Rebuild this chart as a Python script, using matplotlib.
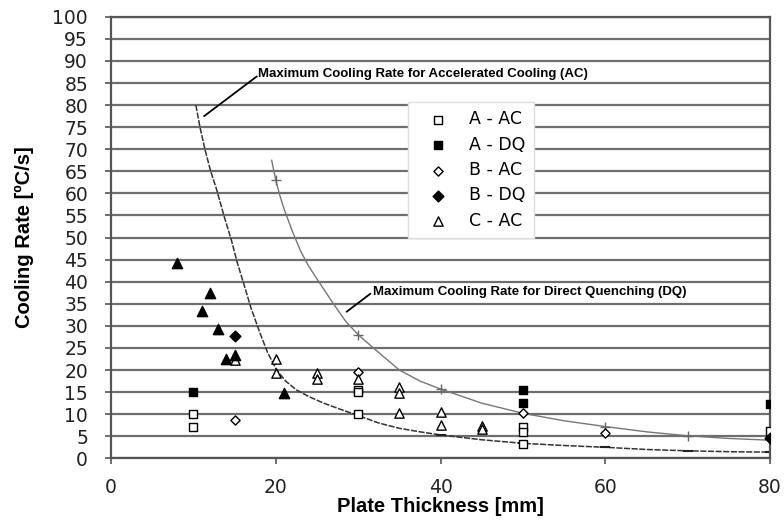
import matplotlib
matplotlib.use('Agg')
import matplotlib.pyplot as plt

plt.rcParams['font.family'] = ['Liberation Sans', 'DejaVu Sans']

# measured points
a_ac_x = [10, 10, 30, 30, 30, 50, 50, 50, 80]
a_ac_y = [10, 7, 15.5, 15, 10, 7, 6, 3.2, 6.2]
a_dq_x = [10, 50, 50, 80]
a_dq_y = [15, 15.5, 12.5, 12.3]
b_ac_x = [15, 30, 50, 60]
b_ac_y = [8.7, 19.5, 10.2, 5.7]
b_dq_x = [15, 80]
b_dq_y = [27.8, 4.5]
c_ac_x = [15, 20, 20, 25, 25, 30, 35, 35, 35, 40, 40, 45, 45]
c_ac_y = [22.2, 22.6, 19.4, 19.4, 17.9, 17.9, 16.1, 14.8, 10.3, 10.5, 7.5, 7.4, 6.6]
c_dq_x = [8, 11, 12, 13, 14, 15, 21]
c_dq_y = [44.2, 33.4, 37.5, 29.2, 22.4, 23.3, 14.7]

# maximum cooling rate curves
ac_x = [10.3, 10.8, 11.4, 12.1, 12.8, 13.7, 14.6, 15.3, 16.1, 17, 18.1, 19, 20.1, 21.2, 22.5,
        24, 25.8, 28, 30, 32.5, 35, 37.5, 40, 45, 50, 55, 60, 65, 70, 75, 80]
ac_y = [80, 75, 70, 65, 61, 55, 49.5, 44.5, 39.6, 34, 28.3, 24, 20, 17.5, 15.5,
        14, 12.5, 11, 9.7, 8, 6.8, 6, 5.3, 4.2, 3.4, 2.9, 2.5, 2.0, 1.7, 1.5, 1.4]
dq_x = [19.5, 20, 20.5, 21, 22, 23, 24, 25.4, 27, 28.5, 30, 32.6, 35, 37.5, 40, 45, 50,
        55, 60, 65, 70, 75, 80]
dq_y = [67.5, 63, 59.5, 56.5, 51.5, 47, 43.5, 39.5, 35, 31, 28, 23.8, 20, 17.5, 15.7, 12.5, 10.2,
        8.5, 7.2, 6, 5.1, 4.5, 4.1]
dq_marks = [20, 30, 40, 60, 70]
ac_marks = [40, 50, 60, 70, 80]

fig = plt.figure(figsize=(7.84, 5.25), dpi=100)
ax = fig.add_axes([0.1416, 0.127, 0.8406, 0.841])

ax.plot(ac_x, ac_y, color='#333333', lw=1.1, ls=(0, (4, 1)), zorder=2)
ax.plot(dq_x, dq_y, color='#777777', lw=1.0, zorder=2)
ax.plot([x for x in dq_x if x in dq_marks],
        [y for x, y in zip(dq_x, dq_y) if x in dq_marks],
        ls='none', marker='+', ms=7, color='#666666', zorder=2)
ax.plot([x for x in ac_x if x in ac_marks],
        [y for x, y in zip(ac_x, ac_y) if x in ac_marks],
        ls='none', marker='_', ms=7, mew=1.5, color='#222222', zorder=2)

ax.scatter(a_ac_x, a_ac_y, marker='s', s=30, facecolors='white', edgecolors='black', linewidths=1, label='A - AC', zorder=3)
ax.scatter(a_dq_x, a_dq_y, marker='s', s=40, color='black', label='A - DQ', zorder=3)
ax.scatter(b_ac_x, b_ac_y, marker='D', s=22, facecolors='white', edgecolors='black', linewidths=1, label='B - AC', zorder=3)
ax.scatter(b_dq_x, b_dq_y, marker='D', s=30, color='black', label='B - DQ', zorder=3)
ax.scatter(c_ac_x, c_ac_y, marker='^', s=45, facecolors='white', edgecolors='black', linewidths=1, label='C - AC', zorder=3)
ax.scatter(c_dq_x, c_dq_y, marker='^', s=55, color='black', zorder=3)

ax.set_xlim(0, 80)
ax.set_ylim(0, 100)
ax.set_xticks([0, 20, 40, 60, 80])
ax.set_yticks(range(0, 101, 5))
ax.yaxis.grid(True, color='#6e6e6e', lw=1.6)
ax.set_axisbelow(True)
for s in ax.spines.values():
    s.set_color('#555555')
    s.set_linewidth(1.6)
ax.tick_params(axis='both', direction='out', length=4, color='#555555', width=1.2,
               labelcolor='#222222')
ax.tick_params(axis='y', labelsize=13.5, pad=12.5)
ax.tick_params(axis='x', labelsize=13.5, pad=10)
for lab in ax.get_xticklabels() + ax.get_yticklabels():
    lab.set_family('DejaVu Sans')

ax.set_xlabel('Plate Thickness [mm]', fontsize=14.5, fontweight='bold', labelpad=0)
ax.set_ylabel('Cooling Rate [ºC/s]', fontsize=14.5, fontweight='bold', labelpad=13)

ax.text(17.8, 87, 'Maximum Cooling Rate for Accelerated Cooling (AC)',
        fontsize=9.5, fontweight='bold', va='center', ha='left')
ax.annotate('', xy=(11.3, 77.5), xytext=(17.7, 86.5),
            arrowprops=dict(arrowstyle='-', color='black', lw=1.3, shrinkA=0, shrinkB=0))
ax.text(31.8, 37.7, 'Maximum Cooling Rate for Direct Quenching (DQ)',
        fontsize=9.5, fontweight='bold', va='center', ha='left')
ax.annotate('', xy=(28.6, 33.2), xytext=(31.5, 37.3),
            arrowprops=dict(arrowstyle='-', color='black', lw=1.3, shrinkA=0, shrinkB=0))

leg = ax.legend(loc='upper left', bbox_to_anchor=(0.451, 0.8075), borderaxespad=0,
                frameon=True, fancybox=False, framealpha=1, edgecolor='#dddddd',
                handletextpad=0.6, labelspacing=0.42, borderpad=0.5, handlelength=2.4,
                prop={'family': 'DejaVu Sans', 'size': 12.5})
leg.set_zorder(5)

fig.savefig('out.png', dpi=100)
